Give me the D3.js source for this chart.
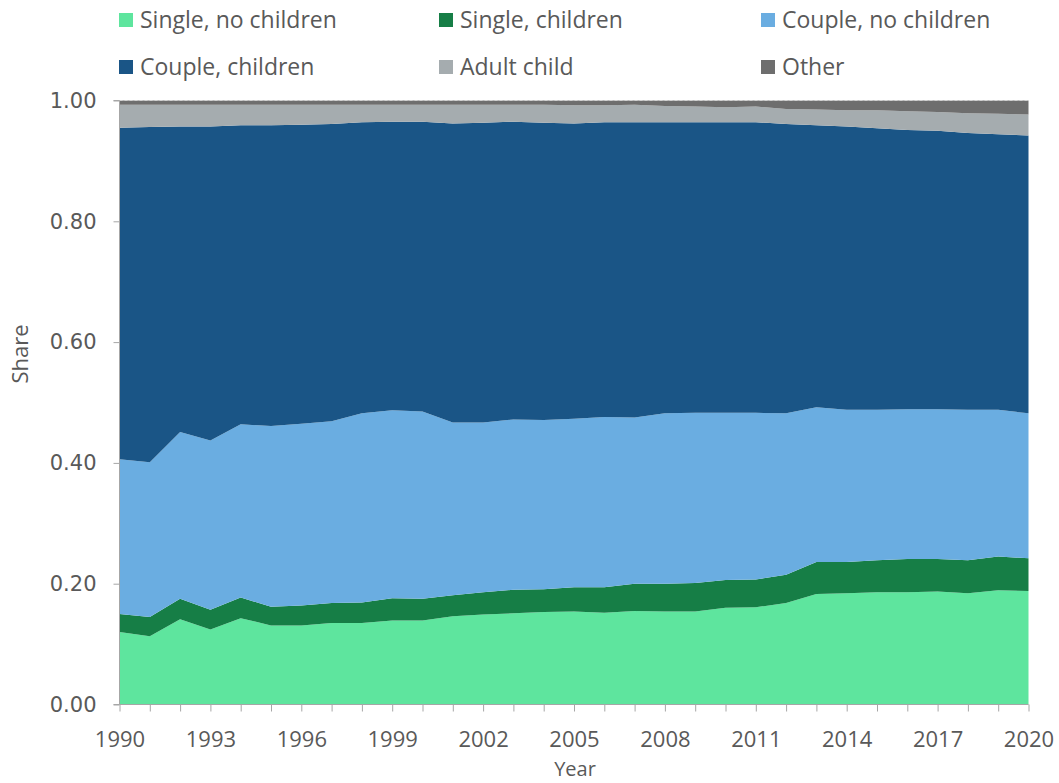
<!DOCTYPE html>
<html>
<head>
<meta charset="utf-8">
<script src="https://cdn.jsdelivr.net/npm/d3@7"></script>
<style>
  html, body { margin: 0; padding: 0; background: #fff; }
  svg { display: block; }
  text { font-family: "Open Sans", "Liberation Sans", sans-serif; fill: #595959; }
</style>
</head>
<body>
<svg id="chart" width="1059" height="783"></svg>
<script>
const years = d3.range(1990, 2021);
const seriesNames = ["Single, no children", "Single, children", "Couple, no children", "Couple, children", "Adult child", "Other"];
const singleNoChildren = [0.120,0.113,0.141,0.124,0.143,0.131,0.131,0.135,0.135,0.139,0.139,0.146,0.149,0.151,0.153,0.154,0.152,0.155,0.154,0.154,0.160,0.161,0.168,0.183,0.184,0.186,0.186,0.187,0.184,0.189,0.188];
const singleChildren = [0.030,0.032,0.034,0.033,0.034,0.031,0.033,0.033,0.034,0.037,0.036,0.035,0.037,0.039,0.038,0.040,0.042,0.045,0.046,0.047,0.046,0.046,0.047,0.053,0.052,0.053,0.055,0.054,0.055,0.056,0.054];
const coupleNoChildren = [0.256,0.256,0.276,0.280,0.287,0.299,0.301,0.301,0.313,0.311,0.310,0.286,0.281,0.282,0.280,0.279,0.282,0.275,0.282,0.282,0.277,0.276,0.267,0.256,0.252,0.249,0.248,0.248,0.249,0.243,0.240];
const coupleChildren = [0.549,0.555,0.506,0.520,0.495,0.498,0.495,0.492,0.482,0.478,0.480,0.495,0.496,0.493,0.492,0.489,0.488,0.489,0.482,0.481,0.481,0.481,0.479,0.467,0.469,0.466,0.462,0.461,0.458,0.456,0.460];
const adultChild = [0.038,0.037,0.036,0.036,0.034,0.034,0.033,0.032,0.029,0.028,0.028,0.031,0.030,0.028,0.030,0.030,0.028,0.029,0.027,0.026,0.025,0.026,0.025,0.026,0.027,0.030,0.031,0.031,0.033,0.034,0.035];
const other = [0.007,0.007,0.007,0.007,0.007,0.007,0.007,0.007,0.007,0.007,0.007,0.007,0.007,0.007,0.007,0.008,0.008,0.007,0.009,0.010,0.011,0.010,0.014,0.015,0.016,0.016,0.018,0.019,0.021,0.022,0.023];
const yTicks = [0, 0.2, 0.4, 0.6, 0.8, 1.0];
const xLabelYears = [1990,1993,1996,1999,2002,2005,2008,2011,2014,2017,2020];
const colors = ["#5ee59e", "#167e46", "#6aade1", "#1a5586", "#a5acaf", "#6e6e6e"];

const seriesValues = [singleNoChildren, singleChildren, coupleNoChildren, coupleChildren, adultChild, other];
const table = years.map((yr, i) => {
  const row = { year: yr };
  seriesNames.forEach((n, k) => row[n] = seriesValues[k][i]);
  return row;
});

const svg = d3.select("#chart");
const x = d3.scaleLinear().domain([1990, 2020]).range([119.5, 1028.5]);
const y = d3.scaleLinear().domain([0, 1]).range([704.5, 100.5]);

const stack = d3.stack().keys(seriesNames);
const layers = stack(table);
const area = d3.area()
  .x(d => x(d.data.year))
  .y0(d => y(d[0]))
  .y1(d => y(d[1]))
  .curve(d3.curveLinear);

svg.append("g").selectAll("path").data(layers).join("path")
  .attr("d", area)
  .attr("fill", (d, i) => colors[i]);

// dashed top edge
svg.append("line")
  .attr("x1", x(1990)).attr("x2", x(2020))
  .attr("y1", y(1)).attr("y2", y(1))
  .attr("stroke", "#d0d0d0").attr("stroke-width", 1)
  .attr("stroke-dasharray", "3,2");

// Y axis
const yAxis = d3.axisLeft(y).tickValues(yTicks).tickFormat(d3.format(".2f")).tickSize(6).tickPadding(17);
const gy = svg.append("g").attr("transform", `translate(${x(1990)},0)`).call(yAxis);
gy.select(".domain").attr("stroke", "#a6a6a6").attr("d", `M-6,${y(1)}H0V${y(0)}H-6`);
gy.selectAll(".tick line").attr("stroke", "#a6a6a6");
gy.selectAll(".tick text").attr("font-size", 21).attr("fill", "#595959").style("font-family", "'DejaVu Sans', sans-serif");

// X axis
const xAxis = d3.axisBottom(x).tickValues(years).tickSize(7).tickPadding(20)
  .tickFormat(d => xLabelYears.includes(d) ? String(d) : "");
const gx = svg.append("g").attr("transform", `translate(0,${y(0)})`).call(xAxis);
gx.select(".domain").attr("stroke", "#a6a6a6").attr("d", `M${x(1990)},0H${x(2020)}`);
gx.selectAll(".tick line").attr("stroke", "#a6a6a6");
gx.selectAll(".tick text").attr("font-size", 22).attr("fill", "#595959").style("font-family", "'Open Sans', sans-serif");

// Axis titles
svg.append("text").attr("x", 575).attr("y", 769).attr("dy", "0.35em").attr("text-anchor", "middle")
  .attr("font-size", 20).text("Year");
svg.append("text").attr("transform", "translate(20,354) rotate(-90)").attr("dy", "0.35em").attr("text-anchor", "middle")
  .attr("font-size", 22).text("Share");

// Legend
const legendPos = [[119, 20], [439, 20], [761, 20], [119, 67], [439, 67], [761, 67]];
const lg = svg.append("g").selectAll("g").data(seriesNames).join("g")
  .attr("transform", (d, i) => `translate(${legendPos[i][0]},${legendPos[i][1]})`);
lg.append("rect").attr("x", 0).attr("y", -7).attr("width", 14).attr("height", 14)
  .attr("fill", (d, i) => colors[i]);
lg.append("text").attr("x", 21).attr("y", 0).attr("dy", "0.35em")
  .attr("font-size", 23).text(d => d);
</script>
</body>
</html>
